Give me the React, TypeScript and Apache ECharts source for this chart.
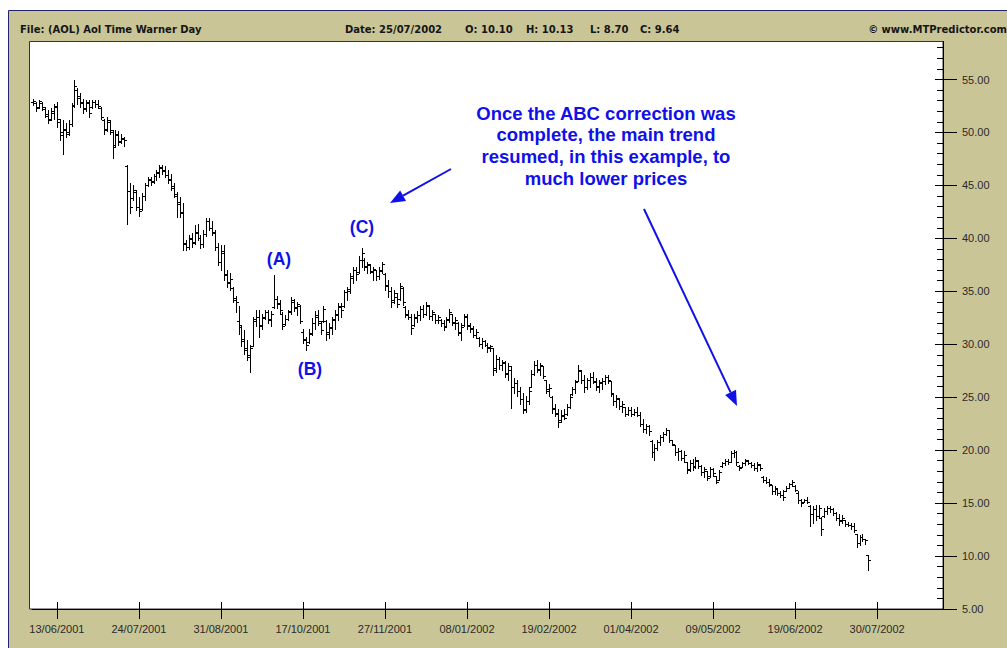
import { useEffect, useRef } from "react";
import * as echarts from "echarts";

// NYSE closures in the period (trading calendar)
const HOLIDAYS = [
  "2001-07-04", "2001-09-03", "2001-09-11", "2001-09-12", "2001-09-13", "2001-09-14",
  "2001-11-22", "2001-12-25", "2002-01-01", "2002-01-21", "2002-02-18", "2002-03-29",
  "2002-05-27", "2002-07-04", "2002-09-02",
];
const TICK_LABELS = [
  "13/06/2001", "24/07/2001", "31/08/2001", "17/10/2001", "27/11/2001", "08/01/2002",
  "19/02/2002", "01/04/2002", "09/05/2002", "19/06/2002", "30/07/2002",
];
const N_SLOTS = 311;
const Y_MIN = 5;
const Y_MAX = 60;
const Y_STEP = 5;

// [open, high, low, close]
const JUN_2001 = [
  [52.9, 53.2, 52.6, 53.0], [52.8, 52.9, 52.0, 52.3], [52.4, 53.1, 52.3, 53.0], [52.8, 52.9, 52.1, 52.4],
  [52.2, 52.4, 51.5, 51.7], [51.6, 52.1, 50.9, 51.2], [51.3, 52.3, 51.2, 52.0], [51.8, 52.7, 51.3, 52.4],
  [52.5, 52.9, 50.5, 51.3], [51.0, 51.3, 49.3, 49.8], [50.0, 51.2, 48.0, 50.3], [50.2, 50.9, 49.6, 49.9],
  [50.0, 51.2, 49.8, 50.8], [50.8, 52.8, 50.6, 52.5], [52.6, 55.0, 52.4, 54.4], [54.0, 54.2, 52.7, 53.3],
  [53.4, 53.7, 52.4, 52.8], [52.9, 53.2, 51.8, 52.2], [52.3, 53.1, 52.0, 52.9], [52.8, 53.1, 51.5, 51.8],
  [52.4, 53.1, 52.3, 52.9],
];
const JUL_2001 = [
  [52.9, 53.1, 52.4, 52.7], [52.7, 53.1, 52.3, 52.5], [52.3, 52.4, 51.3, 51.5], [51.2, 51.3, 49.9, 50.2],
  [50.3, 51.5, 50.1, 51.2], [51.0, 51.2, 49.9, 50.2], [50.0, 50.2, 47.6, 48.6], [48.8, 50.2, 48.7, 49.9],
  [49.8, 50.1, 48.8, 49.1], [49.2, 49.9, 49.0, 49.5], [49.4, 49.6, 48.7, 49.3], [46.8, 46.9, 41.4, 44.5],
  [44.5, 45.2, 42.4, 43.0], [43.8, 45.0, 43.6, 44.6], [44.4, 44.6, 42.7, 43.0], [43.0, 43.9, 42.1, 42.6],
  [42.8, 44.3, 42.7, 44.0], [44.0, 45.2, 43.6, 45.0], [45.0, 45.8, 44.9, 45.6], [45.5, 45.8, 45.0, 45.3],
  [45.4, 46.1, 45.2, 45.9],
];
const AUG_2001 = [
  [45.9, 46.5, 45.5, 46.3], [46.2, 46.9, 45.8, 46.7], [46.6, 46.9, 46.1, 46.4], [46.5, 46.8, 45.8, 46.0],
  [46.0, 46.5, 45.2, 45.5], [45.6, 46.1, 44.6, 44.9], [44.8, 45.2, 43.9, 44.2], [44.0, 44.4, 42.0, 43.2],
  [43.4, 43.9, 42.0, 42.4], [42.5, 43.3, 38.9, 39.5], [39.6, 39.8, 38.9, 39.2], [39.2, 40.3, 39.0, 40.0],
  [39.9, 40.5, 39.2, 39.6], [39.7, 41.3, 39.5, 40.6], [40.5, 41.4, 39.8, 40.0], [40.0, 40.3, 39.1, 39.5],
  [39.5, 40.8, 39.2, 40.4], [40.4, 41.9, 40.2, 41.6], [41.6, 41.9, 40.8, 41.0], [41.0, 41.6, 40.3, 40.6],
  [40.5, 40.8, 38.9, 39.2], [39.2, 39.6, 37.5, 37.8], [37.8, 39.4, 37.0, 38.8],
];
const SEP_2001 = [
  [38.6, 39.4, 36.1, 36.5], [36.6, 37.0, 35.4, 35.8], [35.9, 36.7, 35.1, 36.2], [35.3, 35.4, 34.0, 34.4],
  [34.2, 34.6, 33.0, 34.0], [32.2, 33.6, 31.0, 31.8], [31.6, 31.8, 29.8, 30.3], [30.5, 31.3, 29.1, 29.5],
  [29.6, 30.4, 28.5, 29.0], [28.8, 29.9, 27.4, 29.6], [29.8, 32.6, 29.8, 32.2], [32.4, 33.2, 31.7, 32.6],
  [32.6, 33.2, 30.7, 31.8], [31.7, 32.9, 31.4, 32.6], [32.5, 33.2, 32.4, 33.0],
];
const OCT_2001 = [
  [33.0, 33.2, 32.0, 32.4], [32.3, 33.1, 31.7, 32.9], [33.5, 36.5, 33.4, 34.3], [34.3, 34.6, 33.4, 33.8],
  [33.9, 34.2, 32.9, 33.2], [32.9, 33.0, 31.4, 31.7], [31.9, 32.8, 31.8, 32.4], [32.4, 33.2, 32.3, 33.0],
  [33.1, 34.5, 32.9, 34.2], [34.0, 34.3, 33.1, 33.4], [33.5, 34.0, 32.8, 33.8], [33.6, 33.7, 32.0, 32.2],
  [31.2, 31.4, 30.1, 30.4], [30.5, 30.7, 29.5, 29.9], [30.2, 31.4, 30.1, 31.1], [31.0, 32.5, 30.9, 32.0],
  [32.0, 33.1, 31.4, 32.6], [32.8, 33.2, 31.8, 32.2], [32.0, 32.1, 31.0, 31.3], [32.2, 33.6, 32.1, 33.3],
  [32.2, 32.3, 30.4, 31.0], [31.2, 32.0, 30.6, 31.6], [31.5, 32.6, 31.0, 32.4],
];
const NOV_2001 = [
  [32.3, 33.2, 31.4, 32.9], [32.8, 33.9, 32.3, 33.6], [33.5, 33.9, 32.6, 33.2], [33.6, 35.1, 33.5, 34.9],
  [34.9, 35.4, 34.2, 35.2], [35.0, 36.7, 34.8, 36.4], [36.3, 37.3, 35.8, 37.0], [37.0, 37.3, 36.1, 36.6],
  [36.8, 38.3, 36.7, 38.0], [38.0, 39.1, 37.3, 38.6], [38.0, 38.1, 37.0, 37.4], [37.3, 37.8, 36.7, 37.6],
  [37.5, 37.6, 36.7, 36.9], [36.8, 37.3, 36.1, 37.1], [37.0, 37.0, 36.1, 36.4], [36.4, 37.3, 36.2, 37.0],
  [36.9, 37.8, 36.7, 37.6], [36.6, 36.7, 35.1, 35.5], [35.6, 36.1, 34.5, 35.0], [35.0, 35.4, 33.5, 34.0],
  [34.2, 35.1, 33.9, 34.8],
];
const DEC_2001 = [
  [34.5, 34.8, 33.5, 33.8], [34.3, 35.8, 34.2, 35.5], [35.3, 35.4, 33.7, 34.0], [33.5, 33.6, 32.6, 32.8],
  [32.9, 33.2, 32.4, 32.6], [32.6, 32.9, 31.0, 31.5], [31.8, 32.9, 31.7, 32.6], [32.5, 33.1, 32.1, 32.8],
  [32.8, 33.6, 32.3, 33.3], [33.3, 33.7, 32.6, 32.9], [32.9, 34.0, 32.8, 33.7], [33.6, 33.7, 32.4, 32.7],
  [32.7, 33.2, 32.3, 33.0], [32.9, 32.9, 32.0, 32.3], [32.3, 32.8, 32.0, 32.6], [32.3, 32.4, 31.7, 32.0],
  [32.0, 32.3, 31.3, 31.6], [31.7, 32.6, 31.7, 32.4], [32.3, 33.3, 32.1, 33.0], [32.9, 32.9, 31.8, 32.1],
];
const JAN_2002 = [
  [32.0, 32.6, 31.4, 32.3], [32.0, 32.1, 30.9, 31.2], [31.1, 32.0, 30.4, 31.6], [31.8, 32.9, 31.7, 32.7],
  [32.6, 32.9, 31.4, 31.8], [31.7, 32.0, 31.2, 31.4], [31.5, 31.7, 30.7, 30.9], [30.9, 31.4, 30.6, 31.2],
  [30.6, 30.7, 29.8, 30.0], [30.0, 30.6, 29.6, 30.3], [30.3, 30.4, 29.8, 29.9], [29.9, 30.1, 29.3, 29.6],
  [29.7, 29.9, 29.4, 29.8], [29.6, 29.6, 27.1, 27.6], [27.8, 29.0, 27.4, 28.6], [28.6, 28.8, 27.7, 28.0],
  [28.0, 28.5, 27.6, 28.3], [28.2, 28.4, 26.9, 27.2], [27.3, 28.2, 26.6, 27.9], [27.6, 27.9, 24.0, 26.0],
  [26.0, 26.8, 25.4, 26.3],
];
const FEB_2002 = [
  [26.3, 26.6, 25.1, 25.6], [25.6, 26.0, 24.4, 24.8], [24.8, 25.4, 23.5, 23.9], [23.8, 25.1, 23.6, 24.6],
  [24.6, 26.0, 24.4, 25.6], [26.0, 27.6, 26.0, 27.2], [27.2, 28.4, 27.1, 28.0], [28.0, 28.5, 27.4, 27.6],
  [27.7, 28.2, 27.1, 28.0], [27.9, 27.9, 26.8, 27.0], [26.6, 26.6, 25.4, 25.8], [25.6, 26.2, 25.1, 25.9],
  [25.0, 25.1, 23.5, 23.9], [24.0, 24.4, 23.2, 23.5], [23.4, 23.9, 22.2, 22.7], [22.8, 23.8, 22.7, 23.3],
  [23.2, 23.9, 22.9, 23.0], [23.4, 24.4, 23.3, 24.1], [24.1, 25.2, 24.0, 25.0],
];
const MAR_2002 = [
  [25.3, 26.0, 25.2, 25.8], [25.8, 26.6, 25.4, 26.4], [26.5, 28.0, 26.5, 27.6], [27.5, 27.6, 26.3, 26.6],
  [26.6, 27.1, 25.5, 26.0], [26.0, 26.8, 25.8, 26.6], [26.6, 27.3, 26.0, 26.9], [26.9, 27.4, 26.3, 26.5],
  [26.4, 26.8, 25.7, 26.1], [26.0, 26.6, 25.5, 26.4], [26.3, 26.8, 25.8, 26.5], [26.5, 27.1, 26.2, 26.9],
  [26.9, 27.1, 26.3, 26.6], [26.5, 26.5, 25.1, 25.4], [25.3, 25.4, 24.3, 24.6], [24.6, 25.2, 24.1, 24.9],
  [24.8, 24.9, 23.9, 24.2], [24.2, 24.6, 23.6, 24.4], [24.1, 24.1, 23.2, 23.4], [23.4, 24.1, 23.3, 23.8],
];
const APR_2002 = [
  [23.8, 24.1, 23.2, 23.4], [23.4, 23.9, 23.3, 23.6], [23.6, 24.1, 23.2, 23.3], [23.3, 23.6, 22.3, 22.5],
  [22.5, 22.9, 21.7, 22.0], [22.0, 22.5, 21.6, 22.3], [22.3, 22.4, 21.4, 21.8], [20.9, 21.0, 19.4, 19.8],
  [19.8, 20.6, 19.1, 20.2], [20.2, 21.0, 20.0, 20.8], [20.8, 21.4, 20.5, 21.2], [21.2, 21.7, 20.9, 21.5],
  [21.5, 22.1, 21.4, 21.9], [21.9, 21.9, 20.8, 21.0], [21.0, 21.0, 20.5, 20.6], [20.5, 20.5, 19.5, 19.8],
  [19.8, 20.2, 19.1, 19.9], [19.9, 20.0, 19.1, 19.3], [19.3, 19.9, 18.9, 19.5], [18.9, 18.9, 17.8, 18.1],
  [18.2, 19.1, 18.0, 18.8], [18.8, 19.2, 18.1, 18.4],
];
const MAY_2002 = [
  [18.5, 19.4, 18.3, 19.1], [19.0, 19.1, 18.3, 18.5], [18.5, 18.6, 17.7, 17.9], [17.9, 18.4, 17.5, 18.2],
  [18.0, 18.0, 17.2, 17.4], [17.6, 18.4, 17.5, 18.2], [18.2, 18.3, 17.6, 17.8], [17.6, 17.6, 16.9, 17.0],
  [17.2, 18.1, 17.2, 17.9], [18.5, 18.9, 18.4, 18.8], [18.8, 19.2, 18.6, 19.0], [19.0, 19.2, 18.7, 18.9],
  [18.9, 19.9, 18.9, 19.7], [19.7, 20.0, 19.4, 19.8], [19.8, 19.9, 18.6, 18.9], [18.5, 18.6, 18.1, 18.3],
  [18.4, 18.9, 18.4, 18.8], [18.8, 19.2, 18.6, 19.1], [19.0, 19.1, 18.7, 18.8], [18.8, 18.9, 18.4, 18.6],
  [18.6, 18.8, 18.1, 18.3], [18.3, 18.9, 18.0, 18.7],
];
const JUN_2002 = [
  [18.6, 18.7, 18.1, 18.3], [17.5, 17.6, 17.0, 17.2], [17.2, 17.5, 16.9, 17.0], [17.0, 17.3, 16.6, 16.8],
  [16.7, 16.7, 15.9, 16.1], [16.1, 16.6, 15.9, 16.4], [16.3, 16.4, 15.8, 16.0], [16.0, 16.1, 15.6, 15.8],
  [15.8, 16.2, 15.3, 15.6], [16.1, 16.6, 16.1, 16.4], [16.4, 16.9, 16.4, 16.8], [16.8, 17.2, 16.6, 17.0],
  [16.6, 16.7, 16.1, 16.2], [16.0, 16.1, 15.0, 15.3], [15.3, 15.4, 14.7, 15.0], [15.1, 15.4, 15.1, 15.3],
  [15.3, 15.6, 15.0, 15.1], [14.7, 14.8, 12.8, 14.0], [14.0, 14.7, 13.1, 14.4], [14.4, 14.8, 13.4, 13.8],
];
const JUL_2002 = [
  [13.8, 14.8, 13.6, 14.5], [13.6, 13.7, 12.0, 12.6], [13.8, 14.5, 13.7, 14.3], [14.3, 14.7, 14.0, 14.5],
  [14.5, 14.7, 14.2, 14.4], [14.4, 14.5, 13.9, 14.1], [14.1, 14.2, 13.4, 13.6], [13.6, 14.0, 12.9, 13.3],
  [13.4, 13.9, 13.1, 13.6], [13.4, 13.4, 12.8, 13.0], [13.0, 13.2, 12.8, 12.9], [12.9, 13.1, 12.6, 12.8],
  [12.8, 13.1, 12.3, 12.5], [12.1, 12.1, 10.9, 11.2], [11.2, 12.0, 11.0, 11.8], [11.8, 12.1, 11.4, 11.6],
  [11.6, 11.6, 11.1, 11.5], [10.1, 10.13, 8.7, 9.64],
];

const OHLC = [
  ...JUN_2001, ...JUL_2001, ...AUG_2001, ...SEP_2001, ...OCT_2001, ...NOV_2001, ...DEC_2001,
  ...JAN_2002, ...FEB_2002, ...MAR_2002, ...APR_2002, ...MAY_2002, ...JUN_2002, ...JUL_2002,
];

const HEADER_LEFT = "File: (AOL) Aol Time Warner Day";
const HEADER_MID = [
  { text: "Date: 25/07/2002", x: 345 },
  { text: "O: 10.10", x: 465 },
  { text: "H: 10.13", x: 526 },
  { text: "L: 8.70", x: 590 },
  { text: "C: 9.64", x: 640 },
];
const HEADER_RIGHT = "© www.MTPredictor.com";
const NOTE_LINES = [
  "Once the ABC correction was",
  "complete, the main trend",
  "resumed, in this example, to",
  "much lower prices",
];

function tradingDays(count: number): string[] {
  const out: string[] = [];
  let t = Date.UTC(2001, 5, 1);
  while (out.length < count) {
    const d = new Date(t);
    const dow = d.getUTCDay();
    const iso = d.toISOString().slice(0, 10);
    if (dow !== 0 && dow !== 6 && !HOLIDAYS.includes(iso)) {
      const dd = String(d.getUTCDate()).padStart(2, "0");
      const mm = String(d.getUTCMonth() + 1).padStart(2, "0");
      out.push(`${dd}/${mm}/${d.getUTCFullYear()}`);
    }
    t += 86400000;
  }
  return out;
}

const BLUE = "#1010e8";

function arrow(x1: number, y1: number, x2: number, y2: number) {
  const dx = x2 - x1, dy = y2 - y1;
  const len = Math.sqrt(dx * dx + dy * dy);
  const ux = dx / len, uy = dy / len;
  const headLen = 15, headW = 12;
  const bx = x2 - ux * headLen, by = y2 - uy * headLen;
  const nx = -uy, ny = ux;
  return [
    {
      type: "line", z: 11,
      shape: { x1, y1, x2: bx, y2: by },
      style: { stroke: BLUE, lineWidth: 2 },
    },
    {
      type: "polygon", z: 11,
      shape: {
        points: [
          [x2, y2],
          [bx + nx * headW / 2, by + ny * headW / 2],
          [bx - nx * headW / 2, by - ny * headW / 2],
        ],
      },
      style: { fill: BLUE },
    },
  ];
}

function txt(text: string, x: number, y: number, opts: any) {
  return {
    type: "text", z: opts.z ?? 11,
    style: {
      text, x, y,
      fill: opts.fill ?? "#111",
      fontSize: opts.fontSize ?? 11,
      fontWeight: opts.fontWeight ?? "bold",
      fontFamily: opts.fontFamily ?? "Liberation Sans, Arial, sans-serif",
      textAlign: opts.align ?? "left",
      align: opts.align ?? "left",
      textVerticalAlign: "middle",
      verticalAlign: "middle",
    },
  };
}

const HEADER_FONT = { fontSize: 10, fontFamily: "DejaVu Sans, Verdana, sans-serif", fill: "#151515" };

export default function App() {
  const ref = useRef<HTMLDivElement>(null);

  useEffect(() => {
    if (!ref.current) return;
    const chart = echarts.init(ref.current, null, { renderer: "svg" });
    const dates = tradingDays(N_SLOTS);
    const data = OHLC.map((b, i) => [i, b[0], b[1], b[2], b[3]]);
    const isTick = (_idx: number, val: string) => TICK_LABELS.includes(val);

    const KHAKI = "#c9c597";

    const graphic: any[] = [
      {
        type: "rect", z: -3,
        shape: { x: 8.5, y: 10.5, width: 1010, height: 650 },
        style: { fill: KHAKI, stroke: "#24246e", lineWidth: 1 },
      },
      {
        type: "rect", z: -2,
        shape: { x: 29.5, y: 41.5, width: 913.5, height: 567.5 },
        style: { fill: "#ffffff", stroke: "#333333", lineWidth: 1 },
      },
      {
        type: "rect", z: 10,
        shape: { x: 9, y: 11, width: 1000, height: 30 },
        style: { fill: KHAKI },
      },
      txt(HEADER_LEFT, 20, 29, HEADER_FONT),
      ...HEADER_MID.map((h) => txt(h.text, h.x, 29, HEADER_FONT)),
      txt(HEADER_RIGHT, 1007, 29, { ...HEADER_FONT, align: "right" }),
      txt("(A)", 279, 259, { fill: BLUE, fontSize: 17.5, align: "center" }),
      txt("(B)", 310, 369, { fill: BLUE, fontSize: 17.5, align: "center" }),
      txt("(C)", 362, 227, { fill: BLUE, fontSize: 17.5, align: "center" }),
      ...NOTE_LINES.map((l, k) => txt(l, 606, 113 + k * 21.8, { fill: BLUE, fontSize: 18.5, align: "center" })),
      ...arrow(451, 169, 390, 203),
      ...arrow(644, 209, 737, 406),
    ];

    const labelFont = { fontFamily: "Liberation Sans, Arial, sans-serif", fontSize: 11, color: "#2a2a2a" };

    chart.setOption({
      animation: false,
      backgroundColor: "transparent",
      grid: { left: 32, right: 64, top: 609 - (Y_MAX - Y_MIN) * 10.59, bottom: 39, containLabel: false },
      xAxis: [
        {
          type: "category",
          data: dates,
          position: "bottom",
          axisLine: { show: true, lineStyle: { color: "#000", width: 1 } },
          axisTick: { show: true, interval: isTick, alignWithLabel: true, length: 10, lineStyle: { color: "#000" } },
          axisLabel: { interval: isTick, margin: 14, ...labelFont },
          splitLine: { show: false },
        },
        {
          type: "category",
          data: dates,
          position: "bottom",
          axisLine: { show: false },
          axisTick: { show: true, inside: true, interval: isTick, alignWithLabel: true, length: 7, lineStyle: { color: "#000" } },
          axisLabel: { show: false },
          splitLine: { show: false },
        },
      ],
      yAxis: [
        {
          type: "value",
          position: "right",
          min: Y_MIN,
          max: Y_MAX,
          interval: Y_STEP,
          axisLine: { show: true, lineStyle: { color: "#000", width: 1 } },
          axisTick: { show: true, length: 14, lineStyle: { color: "#000" } },
          axisLabel: {
            margin: 19,
            ...labelFont,
            formatter: (v: number) => (v > 55 ? "" : v.toFixed(2)),
          },
          splitLine: { show: false },
        },
        {
          type: "value",
          position: "right",
          min: Y_MIN,
          max: Y_MAX,
          interval: Y_STEP,
          axisLine: { show: false },
          axisTick: { show: true, inside: true, length: 8, lineStyle: { color: "#000" } },
          minorTick: { show: true, splitNumber: 5, length: 6, lineStyle: { color: "#000" } },
          axisLabel: { show: false },
          splitLine: { show: false },
        },
      ],
      graphic,
      series: [
        {
          type: "custom",
          xAxisIndex: 0,
          yAxisIndex: 0,
          dimensions: ["idx", "open", "high", "low", "close"],
          encode: { x: 0, y: [1, 2, 3, 4] },
          data,
          renderItem: (_params: any, api: any) => {
            const i = api.value(0);
            const pO = api.coord([i, api.value(1)]);
            const pH = api.coord([i, api.value(2)]);
            const pL = api.coord([i, api.value(3)]);
            const pC = api.coord([i, api.value(4)]);
            const x = Math.round(pH[0]) + 0.5;
            const yo = Math.round(pO[1]) + 0.5;
            const yc = Math.round(pC[1]) + 0.5;
            const st = { stroke: "#000", lineWidth: 1 };
            return {
              type: "group",
              children: [
                { type: "line", shape: { x1: x, y1: Math.round(pH[1]), x2: x, y2: Math.round(pL[1]) + 1 }, style: st },
                { type: "line", shape: { x1: x - 2.5, y1: yo, x2: x, y2: yo }, style: st },
                { type: "line", shape: { x1: x, y1: yc, x2: x + 2.5, y2: yc }, style: st },
              ],
            };
          },
        },
      ],
    });

    return () => chart.dispose();
  }, []);

  return (
    <div style={{ position: "fixed", left: 0, top: 0, width: 1007, height: 648, background: "#fff" }}>
      <div ref={ref} style={{ width: 1007, height: 648 }} />
    </div>
  );
}
